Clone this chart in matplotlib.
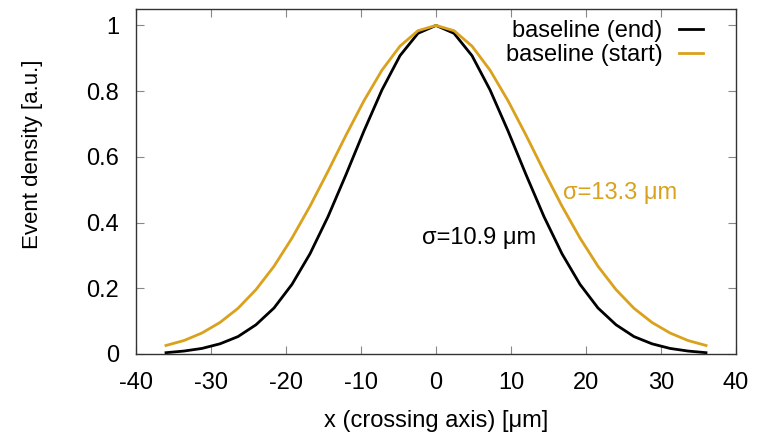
import matplotlib
matplotlib.use("Agg")
import matplotlib.pyplot as plt

plt.rcParams['font.family'] = ['Liberation Sans', 'DejaVu Sans']
plt.rcParams['axes.unicode_minus'] = False

# positions of the samples [um]
x_um = [-36.0, -33.6, -31.2, -28.8, -26.4, -24.0, -21.6, -19.2, -16.8, -14.4, -12.0,
        -9.6, -7.2, -4.8, -2.4, 0.0, 2.4, 4.8, 7.2, 9.6, 12.0, 14.4, 16.8, 19.2,
        21.6, 24.0, 26.4, 28.8, 31.2, 33.6, 36.0]

# baseline (end), sigma = 10.9 um
dens_end = [0.004, 0.009, 0.017, 0.031, 0.053, 0.089, 0.140, 0.212, 0.305, 0.418, 0.546,
            0.679, 0.804, 0.908, 0.976, 1.0, 0.976, 0.908, 0.804, 0.679, 0.546, 0.418,
            0.305, 0.212, 0.140, 0.089, 0.053, 0.031, 0.017, 0.009, 0.004]

# baseline (start), sigma = 13.3 um
dens_start = [0.026, 0.041, 0.064, 0.096, 0.139, 0.196, 0.267, 0.353, 0.450, 0.556, 0.666,
              0.771, 0.864, 0.937, 0.984, 1.0, 0.984, 0.937, 0.864, 0.771, 0.666, 0.556,
              0.450, 0.353, 0.267, 0.196, 0.139, 0.096, 0.064, 0.041, 0.026]

labels = ["baseline (end)", "baseline (start)"]
sigma_text = ["σ=10.9 μm", "σ=13.3 μm"]
colors = ["black", "#d9a11c"]

fig = plt.figure(figsize=(7.61, 4.34), dpi=100)
ax = fig.add_axes([136/761, 80/434, 600/761, 345/434])

ax.plot(x_um, dens_end, color=colors[0], lw=2.0, label=labels[0])
ax.plot(x_um, dens_start, color=colors[1], lw=2.0, label=labels[1])

ax.set_xlim(-40, 40)
ax.set_ylim(0, 1.05)
ax.set_xticks(range(-40, 41, 10))
ax.set_yticks([0, 0.2, 0.4, 0.6, 0.8, 1])
ax.set_yticklabels(["0", "0.2", "0.4", "0.6", "0.8", "1"])
ax.tick_params(direction='in', length=6, width=0.8, color='#888888',
               top=True, right=True, labelsize=17)
ax.tick_params(axis='x', pad=13)
ax.tick_params(axis='y', pad=12)
for sp in ax.spines.values():
    sp.set_color('#333333')
    sp.set_linewidth(1.0)

ax.set_xlabel("x (crossing axis) [μm]", fontsize=17, va='top')
ax.xaxis.set_label_coords(0.5, -0.162)
ax.set_ylabel("Event density [a.u.]", fontsize=16, va='center')
ax.yaxis.set_label_coords(-0.173, 0.578)

ax.text(-1.9, 0.353, sigma_text[0], color=colors[0], fontsize=17, va='center', ha='left')
ax.text(16.9, 0.49, sigma_text[1], color=colors[1], fontsize=17, va='center', ha='left')

ax.legend(loc='upper right', frameon=False, markerfirst=False, fontsize=17,
          handlelength=1.0, handletextpad=0.72, labelspacing=0.1,
          borderpad=0, borderaxespad=0, bbox_to_anchor=(0.945, 0.968))

fig.savefig("out.png", dpi=100)
